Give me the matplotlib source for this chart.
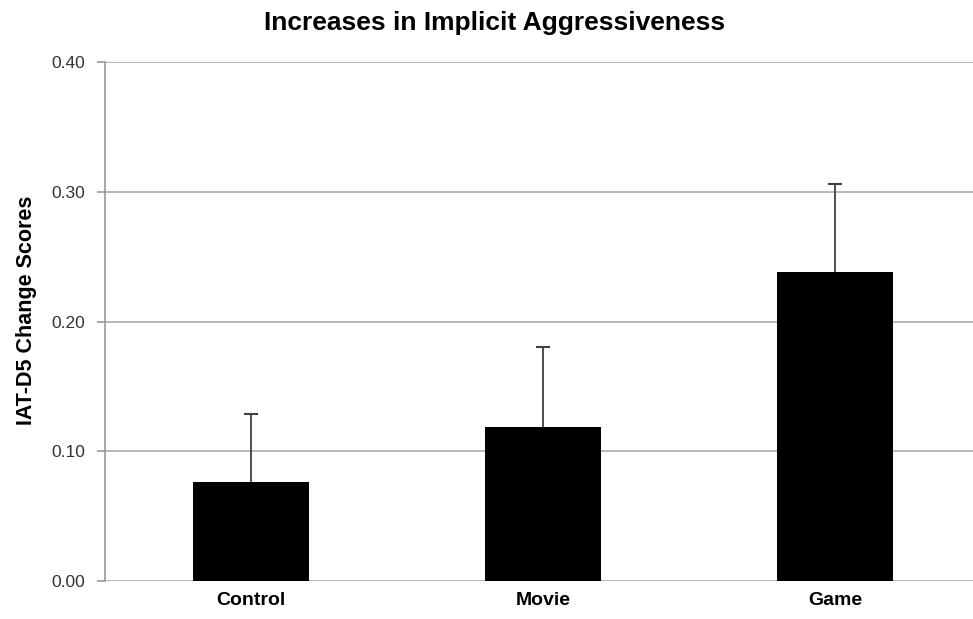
import matplotlib
matplotlib.use("Agg")
import matplotlib.pyplot as plt

categories = ["Control", "Movie", "Game"]
means = [0.076, 0.119, 0.238]
errors = [0.053, 0.061, 0.068]
yticks = [0.00, 0.10, 0.20, 0.30, 0.40]

plt.rcParams['font.family'] = ['Liberation Sans', 'DejaVu Sans']

fig = plt.figure(figsize=(9.73, 6.19), dpi=100)
ax = fig.add_axes([105/973, 1-581/619, 876/973, (581-62)/619])

x = list(range(len(categories)))
tops = [m + e for m, e in zip(means, errors)]
ax.bar(x, means, width=0.4, color='black', zorder=3)
ax.vlines(x, means, tops, color='#404040', linewidth=1.3, zorder=4)
ax.plot(x, tops, linestyle='none', marker='_', markersize=10, markeredgewidth=1.5,
        color='#404040', zorder=4)

ax.set_xlim(-0.5, 2.5)
ax.set_ylim(0, 0.40)
ax.set_yticks(yticks)
ax.set_yticklabels([f"{v:.2f}" for v in yticks], fontsize=12.5, color='#333333')
ax.set_xticks(x)
ax.set_xticklabels(categories, fontsize=14, fontweight='bold')
ax.tick_params(axis='x', length=0, pad=8)
ax.tick_params(axis='y', length=6, color='#999999', width=1.2, pad=8)
ax.yaxis.grid(True, color='#aaaaaa', linewidth=1.2, zorder=0)
for s in ['top', 'right', 'bottom']:
    ax.spines[s].set_visible(False)
ax.spines['left'].set_color('#999999')
ax.spines['left'].set_linewidth(1.2)
ax.set_ylabel("IAT-D5 Change Scores", fontsize=15.5, fontweight='bold')
ax.yaxis.set_label_coords(-0.078, 0.522)
fig.text(495/973, 1-23/619, "Increases in Implicit Aggressiveness", fontsize=19,
         fontweight='bold', ha='center', va='center')

fig.savefig("out.png", dpi=100)
